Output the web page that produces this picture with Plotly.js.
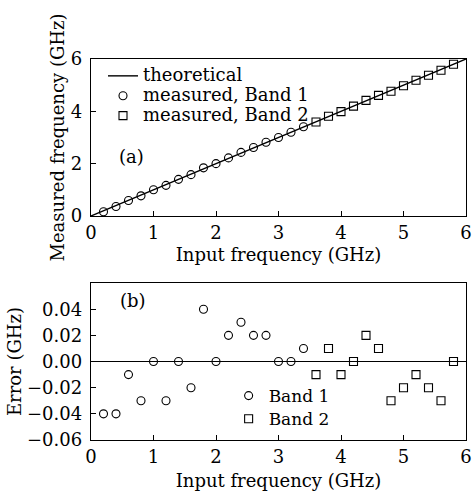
<!DOCTYPE html>
<html><head><meta charset="utf-8">
<script src="https://cdn.plot.ly/plotly-3.0.1.min.js"></script>
<style>body{margin:0;background:#fff}#c{width:472px;height:491px}</style>
</head><body><div id="c"></div>
<script>
const band1X = [0.2,0.4,0.6,0.8,1.0,1.2,1.4,1.6,1.8,2.0,2.2,2.4,2.6,2.8,3.0,3.2,3.4];
const band1Err = [-0.04,-0.04,-0.01,-0.03,0.00,-0.03,0.00,-0.02,0.04,0.00,0.02,0.03,0.02,0.02,0.00,0.00,0.01];
const band2X = [3.6,3.8,4.0,4.2,4.4,4.6,4.8,5.0,5.2,5.4,5.6,5.8];
const band2Err = [-0.01,0.01,-0.01,0.00,0.02,0.01,-0.03,-0.02,-0.01,-0.02,-0.03,0.00];
const theoryX = [0, 6];
const theoryY = [0, 6];
const xTicks = [0,1,2,3,4,5,6];
const yTopTicks = [0,2,4,6];
const yBotTicks = [-0.06,-0.04,-0.02,0.00,0.02,0.04];
const topNames = ['theoretical', 'measured, Band 1', 'measured, Band 2'];
const botNames = ['Band 1', 'Band 2'];

const band1Meas = band1X.map((x,i)=>x+band1Err[i]);
const band2Meas = band2X.map((x,i)=>x+band2Err[i]);

const F = 'DejaVu Serif';
const FS = 18;
const big = (s, n)=>'<span style="font-size:' + n + 'px">' + s + '</span>';
const mk = (sym)=>({symbol:sym, size:8, color:'#000', line:{color:'#000', width:1.1}});

const traces = [
  {x:theoryX, y:theoryY, mode:'lines', line:{color:'#000', width:1.4}, name:big(topNames[0], FS), xaxis:'x', yaxis:'y', legend:'legend'},
  {x:band1X, y:band1Meas, mode:'markers', marker:mk('circle-open'), name:big(topNames[1], FS), xaxis:'x', yaxis:'y', legend:'legend'},
  {x:band2X, y:band2Meas, mode:'markers', marker:mk('square-open'), name:big(topNames[2], FS), xaxis:'x', yaxis:'y', legend:'legend'},
  {x:band1X, y:band1Err, mode:'markers', marker:mk('circle-open'), name:big(botNames[0], 17), xaxis:'x2', yaxis:'y2', legend:'legend2'},
  {x:band2X, y:band2Err, mode:'markers', marker:mk('square-open'), name:big(botNames[1], 17), xaxis:'x2', yaxis:'y2', legend:'legend2'}
];

const axBase = {showline:true, linecolor:'#000', linewidth:1.2, mirror:true, ticks:'inside', ticklen:5, tickcolor:'#000', showgrid:false, zeroline:false, tickfont:{family:F, size:FS, color:'#000'}};

const layout = {
  width:472, height:491,
  margin:{l:91, r:6, t:59, b:51},
  paper_bgcolor:'#fff', plot_bgcolor:'#fff',
  font:{family:F, size:FS, color:'#000'},
  showlegend:true,
  xaxis:Object.assign({}, axBase, {domain:[0,1], range:[0,6], tickvals:xTicks, anchor:'y',
    title:{text:'Input frequency (GHz)', font:{family:F, size:FS}, standoff:6}}),
  yaxis:Object.assign({}, axBase, {domain:[0.588,1], range:[0,6], tickvals:yTopTicks, anchor:'x', ticklabelstandoff:4,
    title:{text:'Measured frequency (GHz)', font:{family:F, size:FS}, standoff:1}}),
  xaxis2:Object.assign({}, axBase, {domain:[0,1], range:[0,6], tickvals:xTicks, anchor:'y2',
    title:{text:'Input frequency (GHz)', font:{family:F, size:FS}, standoff:8}}),
  yaxis2:Object.assign({}, axBase, {domain:[0,0.412], range:[-0.06,0.06], tickvals:yBotTicks, tickformat:'.2f', anchor:'x2', ticklabelstandoff:4,
    zeroline:true, zerolinecolor:'#000', zerolinewidth:1,
    title:{text:'Error (GHz)', font:{family:F, size:FS}}}),
  legend:{x:0.032, y:0.995, xanchor:'left', yanchor:'top', bgcolor:'rgba(0,0,0,0)', font:{family:F, size:13}, tracegroupgap:0},
  legend2:{x:0.367, y:0.16, xanchor:'left', yanchor:'top', bgcolor:'rgba(0,0,0,0)', font:{family:F, size:15.5}, itemwidth:30},
  annotations:[
    {x:0.65, y:2.27, xref:'x', yref:'y', text:'(a)', showarrow:false, font:{family:F, size:FS}},
    {x:0.67, y:0.047, xref:'x2', yref:'y2', text:'(b)', showarrow:false, font:{family:F, size:FS}}
  ]
};

Plotly.newPlot('c', traces, layout, {displayModeBar:false, staticPlot:true});
</script></body></html>
